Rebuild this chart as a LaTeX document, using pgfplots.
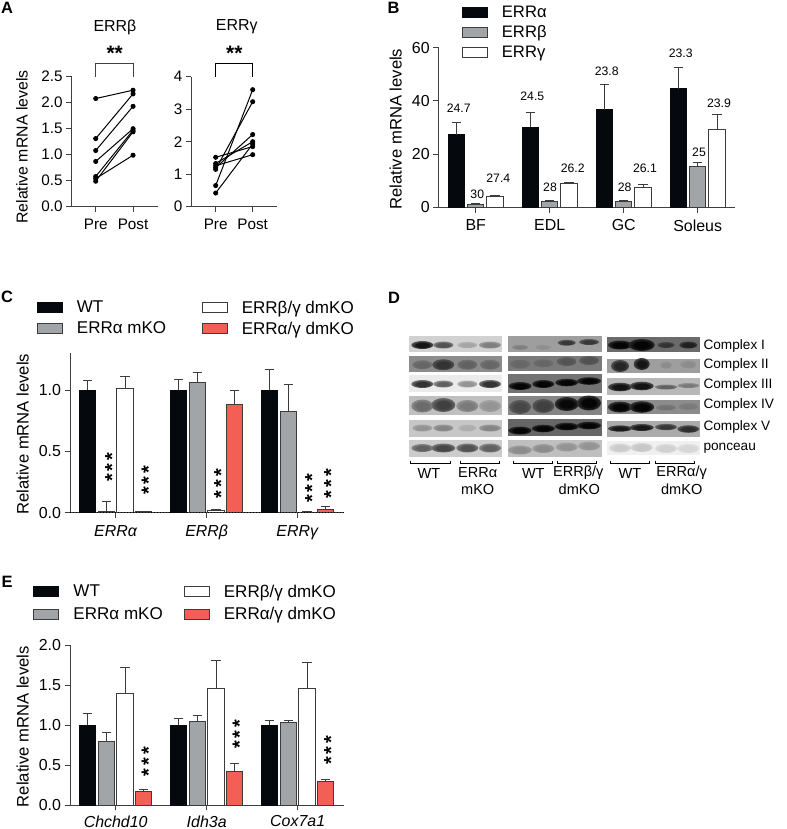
\documentclass[border=0pt]{standalone}
\usepackage{fontspec}
\setmainfont{Liberation Sans}
\usepackage{pgfplots}
\pgfplotsset{compat=1.18}
\newcommand{\fs}[1]{\fontsize{#1}{#1}\selectfont}
\definecolor{barblack}{HTML}{05080C}
\definecolor{bargray}{HTML}{A2A5A7}
\definecolor{barred}{HTML}{F35F55}
\definecolor{edge}{HTML}{3C3C3C}
\definecolor{axiscol}{HTML}{404040}
% soft band for the blot panel
\colorlet{bc}{black}\colorlet{bg}{white}
\pgfdeclareradialshading[bc,bg]{blot}{\pgfpoint{0bp}{0bp}}{color(0bp)=(bc); color(14bp)=(bc); color(47bp)=(bg); color(50bp)=(bg)}
\newcommand{\patch}[5]{\fill[/utils/exec={\xglobal\colorlet{bg}{black!#5}},black!#5] (#1,#3) rectangle (#2,#4);}
\newcommand{\band}[5]{\shade[/utils/exec={\colorlet{bc}{black!#5}},shading=blot] (#1,#2) ellipse [x radius=#3bp,y radius=#4bp];}
\newcommand{\bracket}[2]{\draw[black,line width=0.9bp] (#1,460.5) -- (#1,463.7) -- (#2,463.7) -- (#2,460.5);}
\newcommand{\vstars}[2]{\node[xshift=4.4bp,rotate=90,inner sep=0pt,font=\bfseries\fs{20}] at (#1,#2) {*\kern2.9bp*\kern2.9bp*};}
\newcommand{\letter}[3]{\node[font=\bfseries\fs{16.5},inner sep=0pt] at (#1,#2) {#3};}
\newcommand{\num}[3]{\node[font=\fs{12.3},inner sep=0pt] at (#1,#2) {#3};}
\newcommand{\blab}[3]{\node[font=\fs{14.6},inner sep=0pt] at (#1,#2) {#3};}
\newcommand{\clab}[2]{\node[font=\fs{13.7},inner sep=0pt,anchor=west] at (703.3,#1) {#2};}
\pgfplotsset{
  every axis title shift=0pt,
  panel/.style={
    scale only axis, clip=false,
    axis x line*=bottom, axis y line*=left,
    axis line style={-,draw=axiscol,line width=1bp},
    tick style={draw=axiscol,line width=1bp},
    tick align=outside, major tick length=5.5bp,
    /pgf/number format/assume math mode=true,
    tick label style={font=\fs{16}},
    x tick label style={yshift=-3.5bp},
    y label style={font=\fs{16.7},anchor=center},
  },
  onedec/.style={yticklabel style={/pgf/number format/fixed,/pgf/number format/fixed zerofill,/pgf/number format/precision=1}},
  pair/.style={black,line width=1bp,mark=*,mark size=2bp,mark options={fill=black,draw=black}},
  swatch/.style={legend image code/.code={\draw[##1,line width=1bp] (0bp,-5bp) rectangle (25bp,5bp);}},
  bars/.style={ybar,bar width=16.3bp,bar shift=0bp,line width=1bp,swatch,
    error bars/y dir=plus,error bars/y explicit,
    error bars/error bar style={line width=1bp,draw=edge},
    error bars/error mark options={rotate=90,mark size=4.7bp,line width=1bp,draw=edge}},
  blackbar/.style={bars,draw=barblack,fill=barblack},
  graybar/.style={bars,draw=edge,fill=bargray},
  whitebar/.style={bars,draw=edge,fill=white},
  redbar/.style={bars,draw=edge,fill=barred},
}
\begin{document}
\begin{tikzpicture}
\path[use as bounding box] (0,0) rectangle (787bp,829bp);

% panel letters, starred annotations and the blot panel, in pixel coordinates
\begin{axis}[at={(0bp,0bp)},anchor=south west,scale only axis,width=787bp,height=829bp,
  xmin=0,xmax=787,ymin=0,ymax=829,y dir=reverse,hide axis,clip=false]
\addplot[draw=none,forget plot] coordinates {(0,0) (787,829)};
\letter{7}{8}{A}\letter{393.5}{8}{B}\letter{7}{297}{C}\letter{394}{298}{D}\letter{7}{582}{E}
\node[font=\bfseries\fs{21},inner sep=0pt] at (114.7,53) {**};
\node[font=\bfseries\fs{21},inner sep=0pt] at (234.3,53) {**};
% numbers above the bars of B
\num{458.7}{108.3}{24.7}\num{477.3}{194.3}{30}\num{498.3}{178.3}{27.4}
\num{532.3}{96.7}{24.5}\num{550}{187.7}{28}\num{572.7}{168}{26.2}
\num{606.7}{71.7}{23.8}\num{624.7}{187.7}{28}\num{645}{168}{26.1}
\num{680.7}{53.3}{23.3}\num{699}{152.3}{25}\num{719}{103.3}{23.9}
% significance marks of C and E
\vstars{107.7}{467.3}\vstars{144}{480.3}\vstars{216.7}{483.7}\vstars{307.7}{488.3}\vstars{326.7}{483.7}
\vstars{144}{761.7}\vstars{235}{734.3}\vstars{326.7}{750.3}

% D: first blot
\patch{409}{502.3}{335.7}{352.3}{18}
\band{422.3}{345}{11}{4}{92}\band{443.3}{345}{10}{3.5}{68}\band{467.3}{345}{10}{3.2}{35}\band{490}{345}{11}{3.5}{50}
\patch{409}{502.3}{356}{372.3}{45}
\band{422.3}{364.7}{10}{4.5}{60}\band{443.3}{364.7}{11}{5.5}{80}\band{467.3}{364.7}{10}{5}{62}\band{490}{364.7}{10}{5}{60}
\patch{409}{502.3}{375.3}{392}{8}
\band{422.3}{384}{11}{4}{80}\band{443.3}{384}{10}{3.5}{62}\band{467.3}{384}{10}{3.5}{42}\band{490}{384}{11}{4}{80}
\patch{409}{502.3}{395.7}{415}{25}
\band{422.3}{406}{11}{6.5}{58}\band{443.3}{405}{12}{7}{75}\band{467.3}{406}{11}{6}{52}\band{490}{406}{11}{6}{42}
\patch{409}{502.3}{420}{436.7}{22}
\band{422.3}{428}{10}{3.5}{42}\band{443.3}{428}{10}{3.5}{48}\band{467.3}{428}{9}{3.5}{32}\band{490}{428}{11}{3.5}{48}
\patch{409}{502.3}{440}{456.7}{20}
\band{422.3}{448}{11}{4}{62}\band{443.3}{448}{12}{4.5}{72}\band{467.3}{448}{11}{4.5}{68}\band{490}{448}{11}{4.5}{62}

% D: second blot
\patch{508.3}{602}{335.7}{352.3}{38}
\band{520}{347.3}{8}{2.5}{50}\band{543.3}{347.3}{8}{2.5}{44}\band{566.7}{342.7}{9}{3}{78}\band{589}{342}{10}{3}{78}
\patch{508.3}{602}{355.7}{371}{52}
\band{520}{364}{10}{4.5}{60}\band{543.3}{363.3}{10}{4}{60}\band{566.7}{361.5}{10}{4.5}{67}\band{589}{360.5}{10}{4.5}{68}
\patch{508.3}{602}{374.3}{393}{55}
\band{520}{386}{11.5}{4}{98}\band{543.3}{384}{11}{4}{98}\band{566.7}{382.5}{11.5}{3.8}{98}\band{589}{381}{12}{3.8}{98}
\patch{508.3}{602}{395.7}{415}{48}
\band{520}{407}{11}{7}{72}\band{543.3}{406}{11}{7}{75}\band{566.7}{404}{12}{7}{97}\band{589}{403}{12}{7.5}{98}
\patch{508.3}{602}{419.3}{436}{60}
\band{520}{430.5}{11.5}{4}{98}\band{543.3}{428.5}{11.5}{3.8}{98}\band{566.7}{426.5}{12}{3.8}{98}\band{589}{425.5}{12}{3.8}{98}
\patch{508.3}{602}{440}{456.7}{25}
\band{520}{450}{12}{4.5}{45}\band{543.3}{448.5}{11}{4.5}{45}\band{566.7}{447}{11}{4.5}{42}\band{589}{446}{11}{4.5}{42}

% D: third blot
\patch{606.7}{700}{336.7}{352.3}{58}
\band{620}{345}{12}{4.5}{98}\band{641.7}{345}{13}{6}{98}\band{666}{345}{8.5}{3}{80}\band{688.3}{345}{9}{3.5}{88}
\patch{606.7}{700}{359}{373.3}{38}
\band{620}{366}{9}{6}{85}\band{641.7}{364}{8}{6}{92}\band{666}{365}{6}{3.5}{45}\band{688.3}{364.5}{8}{4}{45}
\patch{606.7}{700}{377.7}{395.3}{28}
\band{620}{387}{12}{4.3}{92}\band{641.7}{386}{12}{4.3}{92}\band{666}{387}{11}{2.5}{62}\band{688.3}{385.5}{11}{2.5}{52}
\patch{606.7}{700}{400}{414}{45}
\band{620}{407}{12}{5.5}{98}\band{641.7}{407}{12.5}{5.8}{98}\band{666}{407.5}{10}{3}{55}\band{688.3}{406.5}{10}{3.5}{52}
\patch{606.7}{700}{420.7}{436.7}{33}
\band{620}{428.5}{12}{3.2}{90}\band{641.7}{427.5}{12}{3.5}{90}\band{666}{427}{11}{3.2}{78}\band{688.3}{429}{11}{3.8}{82}
\patch{606.7}{700}{440.7}{455}{6}
\band{620}{448}{11}{4.5}{20}\band{641.7}{447.5}{11}{4.5}{22}\band{666}{448.5}{11}{4.5}{18}\band{688.3}{448.5}{11}{4.5}{16}

\bracket{410.7}{450}\bracket{460}{499}\bracket{513.3}{552.3}\bracket{557.7}{596.7}\bracket{610}{649}\bracket{655.7}{694.7}
\blab{429}{473}{WT}\blab{477.7}{473}{ERRα}\blab{477.7}{489}{mKO}
\blab{533.3}{473}{WT}\blab{578.3}{473}{ERRβ/γ}\blab{579.3}{489}{dmKO}
\blab{630}{473}{WT}\blab{681.7}{473}{ERRα/γ}\blab{681.7}{489}{dmKO}
\clab{346}{Complex I}\clab{365}{Complex II}\clab{385}{Complex III}\clab{404.7}{Complex IV}\clab{427.3}{Complex V}\clab{448.3}{ponceau}
\end{axis}

% A, ERRbeta
\begin{axis}[panel,onedec,at={(71.7bp,622.3bp)},anchor=south west,width=86bp,height=130bp,
  xmin=-0.643,xmax=1.66,ymin=0,ymax=2.5,xtick={0,1},xticklabels={Pre,Post},ytick={0,0.5,1,1.5,2,2.5},
  tick label style={font=\fs{15.3}},
  ylabel={Relative mRNA levels},y label style={font=\fs{15.9},at={(axis description cs:-0.578,0.459)}},
  title={ERRβ},title style={font=\fs{16},at={(axis description cs:0.503,1.382)},anchor=center}]
\addplot[pair] coordinates {(0,2.08) (1,2.24)};
\addplot[pair] coordinates {(0,1.31) (1,2.17)};
\addplot[pair] coordinates {(0,1.08) (1,1.93)};
\addplot[pair] coordinates {(0,0.87) (1,1.50)};
\addplot[pair] coordinates {(0,0.58) (1,1.47)};
\addplot[pair] coordinates {(0,0.54) (1,0.99)};
\addplot[pair] coordinates {(0,0.49) (1,1.44)};
\addplot[axiscol,line width=0.9bp] coordinates {(0,2.5) (0,2.76) (1,2.76) (1,2.5)};
\end{axis}

% A, ERRgamma
\begin{axis}[panel,at={(191.3bp,622.3bp)},anchor=south west,width=86bp,height=130bp,
  xmin=-0.659,xmax=1.665,ymin=0,ymax=4,xtick={0,1},xticklabels={Pre,Post},ytick={0,1,2,3,4},
  tick label style={font=\fs{15.3}},
  title={ERRγ},title style={font=\fs{16},at={(axis description cs:0.528,1.382)},anchor=center}]
\addplot[pair] coordinates {(0,0.65) (1,3.60)};
\addplot[pair] coordinates {(0,1.15) (1,3.23)};
\addplot[pair] coordinates {(0,1.20) (1,2.22)};
\addplot[pair] coordinates {(0,1.33) (1,2.00)};
\addplot[pair] coordinates {(0,1.52) (1,1.85)};
\addplot[pair] coordinates {(0,1.26) (1,1.60)};
\addplot[pair] coordinates {(0,0.42) (1,1.93)};
\addplot[black,line width=0.9bp] coordinates {(0,4) (0,4.41) (1,4.41) (1,4)};
\end{axis}

% B: bars sit at group position +- 19.3 px of 74 px per group
\begin{axis}[panel,at={(438.7bp,621.7bp)},anchor=south west,width=296.3bp,height=159.6bp,
  xmin=-0.5,xmax=3.504,ymin=0,ymax=60,xtick={0,1,2,3},xticklabels={BF,EDL,GC,Soleus},ytick={0,20,40,60},
  ylabel={Relative mRNA levels},y label style={at={(axis description cs:-0.145,0.49)}},
  legend style={draw=none,fill=none,inner sep=0pt,at={(axis description cs:0.0776,1.26)},anchor=north west,
    font=\fs{16.7},row sep=6.5bp,nodes={inner sep=0pt},/tikz/column 1/.style={column sep=14bp}},legend cell align=left]
\addplot[blackbar] coordinates {(-0.261,27.2)+-(0,4.5) (0.739,30)+-(0,5.6) (1.739,36.7)+-(0,9.5) (2.739,44.5)+-(0,8)};
\addlegendentry{ERRα}
\addplot[graybar] coordinates {(0,0.9)+-(0,0.4) (1,2.3)+-(0,0.3) (2,2.3)+-(0,0.3) (3,15.5)+-(0,1.4)};
\addlegendentry{ERRβ}
\addplot[whitebar] coordinates {(0.261,3.9)+-(0,0.6) (1.261,8.8)+-(0,0.7) (2.261,7.3)+-(0,1.3) (3.261,29.4)+-(0,5.6)};
\addlegendentry{ERRγ}
\end{axis}

% C: bars sit at group position -28, -9.33, +9.33, +28 px of 91 px per group
\begin{axis}[panel,onedec,at={(70bp,316.3bp)},anchor=south west,width=274bp,height=159.4bp,
  xmin=-0.502,xmax=2.509,ymin=0,ymax=1.3,xtick={0,1,2},xticklabels={\textit{ERRα},\textit{ERRβ},\textit{ERRγ}},ytick={0,0.5,1},
  ylabel={Relative mRNA levels},y label style={at={(axis description cs:-0.173,0.4925)}},
  transpose legend,
  legend style={draw=none,fill=none,inner sep=0pt,at={(axis description cs:-0.1215,1.33)},anchor=north west,
    font=\fs{17.1},legend columns=2,row sep=7bp,nodes={inner sep=0pt},
    /tikz/column 1/.style={column sep=14bp},/tikz/column 2/.style={column sep=35.5bp},/tikz/column 3/.style={column sep=14bp}},
  legend cell align=left]
\addplot[blackbar] coordinates {(-0.308,1)+-(0,0.08) (0.692,1)+-(0,0.087) (1.692,1)+-(0,0.166)};
\addlegendentry{WT}
\addplot[graybar] coordinates {(-0.103,0.008)+-(0,0.082) (0.897,1.06)+-(0,0.084) (1.897,0.826)+-(0,0.217)};
\addlegendentry{ERRα mKO}
\addplot[whitebar] coordinates {(0.103,1.01)+-(0,0.1) (1.103,0.018)+-(0,0.007) (2.103,0.005)+-(0,0.003)};
\addlegendentry{ERRβ/γ dmKO}
\addplot[redbar] coordinates {(0.308,0.01)+-(0,0.003) (1.308,0.883)+-(0,0.114) (2.308,0.03)+-(0,0.022)};
\addlegendentry{ERRα/γ dmKO}
\addplot[black,dotted,line width=1bp,forget plot] coordinates {(-0.5,0) (2.5,0)};
\end{axis}

% E
\begin{axis}[panel,onedec,at={(70bp,24bp)},anchor=south west,width=274bp,height=159.7bp,
  xmin=-0.502,xmax=2.509,ymin=0,ymax=2,xtick={0,1,2},xticklabels={\textit{Chchd10},\textit{Idh3a},\textit{Cox7a1}},ytick={0,0.5,1,1.5,2},
  x tick label style={yshift=1.8bp},
  ylabel={Relative mRNA levels},y label style={at={(axis description cs:-0.173,0.49)}},
  transpose legend,
  legend style={draw=none,fill=none,inner sep=0pt,at={(axis description cs:-0.134,1.38)},anchor=north west,
    font=\fs{17.1},legend columns=2,row sep=8.5bp,nodes={inner sep=0pt},
    /tikz/column 1/.style={column sep=14bp},/tikz/column 2/.style={column sep=21bp},/tikz/column 3/.style={column sep=14bp}},
  legend cell align=left]
\addplot[blackbar] coordinates {(-0.308,1)+-(0,0.152) (0.692,1)+-(0,0.086) (1.692,1)+-(0,0.06)};
\addlegendentry{WT}
\addplot[graybar] coordinates {(-0.103,0.797)+-(0,0.109) (0.897,1.04)+-(0,0.075) (1.897,1.036)+-(0,0.02)};
\addlegendentry{ERRα mKO}
\addplot[whitebar] coordinates {(0.103,1.4)+-(0,0.32) (1.103,1.453)+-(0,0.355) (2.103,1.461)+-(0,0.326)};
\addlegendentry{ERRβ/γ dmKO}
\addplot[redbar] coordinates {(0.308,0.171)+-(0,0.021) (1.308,0.422)+-(0,0.1) (2.308,0.296)+-(0,0.021)};
\addlegendentry{ERRα/γ dmKO}
\end{axis}
\end{tikzpicture}
\end{document}
